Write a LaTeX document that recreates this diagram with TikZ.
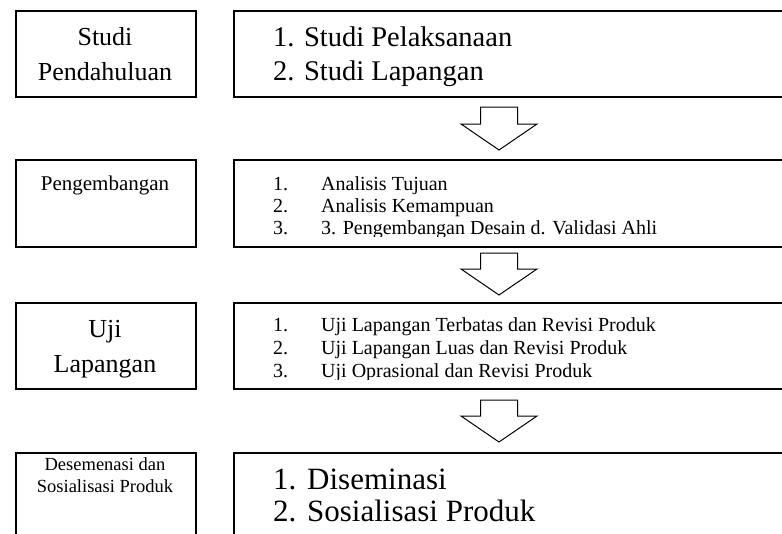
\documentclass[tikz,border=0pt]{standalone}
\usepackage{fontspec}
\setmainfont{Liberation Serif}
\usetikzlibrary{positioning}
\newcommand{\ukuran}[1]{\fontsize{#1}{#1}\selectfont}
\tikzset{
  kotak/.style={draw,line width=1.9pt,anchor=north west,inner sep=0pt},
  baris/.style={anchor=base west,inner sep=0pt},
  judul/.style={anchor=base,inner sep=0pt},
  panah/.style={draw,line width=1pt,line join=miter},
}

\begin{document}
\begin{tikzpicture}[x=1pt,y=-1pt]
\clip (0,0) rectangle (782,533);
\fill[white] (0,0) rectangle (782,533);

% kotak tahap (kiri) dan kotak rincian (kanan)
\node[kotak,minimum width=180pt,minimum height=86pt] (studi) at (15,10) {};
\node[kotak,minimum width=580pt,minimum height=86pt] (rinciStudi) at (233,10) {};
\node[kotak,minimum width=180pt,minimum height=87pt] (kembang) at (15,159) {};
\node[kotak,minimum width=580pt,minimum height=87pt] (rinciKembang) at (233,159) {};
\node[kotak,minimum width=180pt,minimum height=86pt] (uji) at (15,302) {};
\node[kotak,minimum width=580pt,minimum height=86pt] (rinciUji) at (233,302) {};
\node[kotak,minimum width=180pt,minimum height=110pt] (sebar) at (15,452) {};
\node[kotak,minimum width=580pt,minimum height=110pt] (rinciSebar) at (233,452) {};

% judul tahap
\node[judul,font=\ukuran{26}] (studiA) at (105,45) {Studi};
\node[judul,font=\ukuran{26}] (studiB) at (105,80) {Pendahuluan};
\node[judul,font=\ukuran{21}] (kembangA) at (105,190) {Pengembangan};
\node[judul,font=\ukuran{26}] (ujiA) at (105,337) {Uji};
\node[judul,font=\ukuran{26}] (ujiB) at (105,372) {Lapangan};
\node[judul,font=\ukuran{18.5}] (sebarA) at (105,470) {Desemenasi dan};
\node[judul,font=\ukuran{18.5}] (sebarB) at (105,492) {Sosialisasi Produk};

% rincian (teks terpotong di bawah)
\begin{scope}
\clip (233,10) rectangle (782,86);
\node[baris,font=\ukuran{28.5}] (studi1) at (273,46) {1. Studi Pelaksanaan};
\node[baris,font=\ukuran{28.5}] (studi2) at (273,80) {2. Studi Lapangan};
\end{scope}
\begin{scope}
\clip (233,159) rectangle (782,236);
\foreach \y/\isi [count=\i] in {190/Analisis Tujuan,212/Analisis Kemampuan,234/3. Pengembangan Desain d. Validasi Ahli}{
  \node[baris,font=\ukuran{20}] (kembangNo\i) at (273,\y) {\i.};
  \node[baris,font=\ukuran{20}] (kembang\i) at (321,\y) {\isi};
}
\end{scope}
\begin{scope}
\clip (233,302) rectangle (782,379);
\foreach \y/\isi [count=\i] in {331/Uji Lapangan Terbatas dan Revisi Produk,354/Uji Lapangan Luas dan Revisi Produk,377/Uji Oprasional dan Revisi Produk}{
  \node[baris,font=\ukuran{20}] (ujiNo\i) at (273,\y) {\i.};
  \node[baris,font=\ukuran{20}] (uji\i) at (321,\y) {\isi};
}
\end{scope}
\foreach \y/\isi [count=\i] in {489/Diseminasi,521/Sosialisasi Produk}{
  \node[baris,font=\ukuran{31}] (sebarNo\i) at (273,\y) {\i.};
  \node[baris,font=\ukuran{31}] (sebar\i) at (307,\y) {\isi};
}

% panah blok ke bawah
\foreach \atas/\dasar/\ujung in {107/124/150,253/269/295,400/416/442}
  \draw[panah] (480.5,\atas) -- (517.5,\atas) -- (517.5,\dasar) -- (537,\dasar)
    -- (499,\ujung) -- (461,\dasar) -- (480.5,\dasar) -- cycle;
\end{tikzpicture}
\end{document}
